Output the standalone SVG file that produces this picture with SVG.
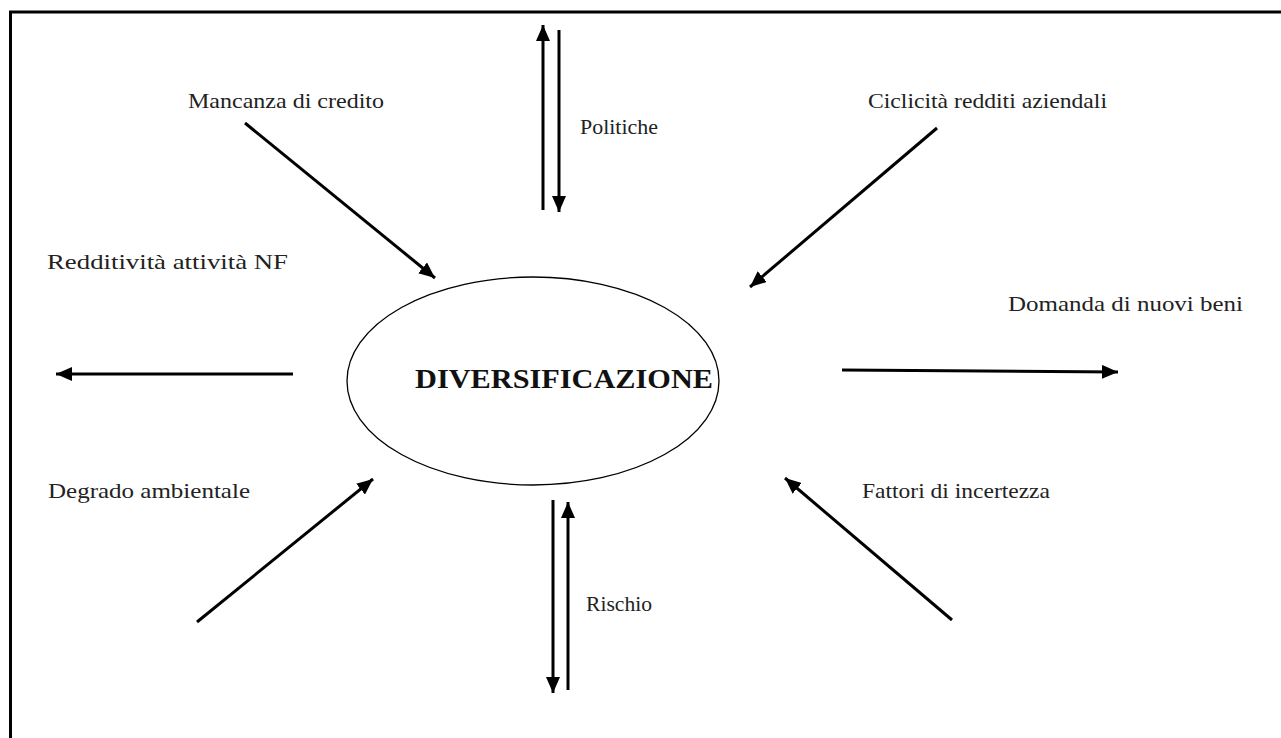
<svg xmlns="http://www.w3.org/2000/svg" width="1281" height="738" viewBox="0 0 1281 738">
<style>
.lbl{font-family:"Liberation Serif","Times New Roman",serif;font-size:22px;fill:#222}
.title{font-family:"Liberation Serif","Times New Roman",serif;font-size:27px;font-weight:bold;fill:#111}
.c{stroke:#000;stroke-width:3;fill:none;marker-end:url(#ah)}
</style>
<defs>
<marker id="ah" markerUnits="userSpaceOnUse" markerWidth="18" markerHeight="14" refX="16" refY="7" orient="auto">
<path d="M0,0 L16,7 L0,14 Z" fill="#000"/>
</marker>
</defs>
<rect width="1281" height="738" fill="#fff"/>
<g id="frame">
<path d="M1281,12 H10.5 V738" fill="none" stroke="#000" stroke-width="3"/>
</g>
<g id="center">
<ellipse cx="533" cy="381" rx="186" ry="104" fill="#fff" stroke="#000" stroke-width="1.3"/>
<text class="title" x="415" y="388" textLength="298" lengthAdjust="spacingAndGlyphs">DIVERSIFICAZIONE</text>
</g>
<g id="mancanza"><text class="lbl" x="188" y="108" textLength="196" lengthAdjust="spacingAndGlyphs">Mancanza di credito</text></g>
<g id="politiche"><text class="lbl" x="580" y="134" textLength="78" lengthAdjust="spacingAndGlyphs">Politiche</text></g>
<g id="ciclicita"><text class="lbl" x="868" y="108" textLength="239" lengthAdjust="spacingAndGlyphs">Ciclicità redditi aziendali</text></g>
<g id="redditivita"><text class="lbl" x="47" y="269" textLength="241" lengthAdjust="spacingAndGlyphs">Redditività attività NF</text></g>
<g id="domanda"><text class="lbl" x="1008" y="311" textLength="235" lengthAdjust="spacingAndGlyphs">Domanda di nuovi beni</text></g>
<g id="degrado"><text class="lbl" x="48" y="498" textLength="202" lengthAdjust="spacingAndGlyphs">Degrado ambientale</text></g>
<g id="fattori"><text class="lbl" x="862" y="498" textLength="188" lengthAdjust="spacingAndGlyphs">Fattori di incertezza</text></g>
<g id="rischio"><text class="lbl" x="586" y="611" textLength="66" lengthAdjust="spacingAndGlyphs">Rischio</text></g>
<g id="connectors">
<line class="c" x1="543" y1="210" x2="543" y2="25"/>
<line class="c" x1="559" y1="30" x2="559" y2="212"/>
<line class="c" x1="553" y1="500" x2="553" y2="693"/>
<line class="c" x1="568" y1="690" x2="568" y2="502"/>
<line class="c" x1="245" y1="123" x2="435" y2="278"/>
<line class="c" x1="937" y1="128" x2="750" y2="287"/>
<line class="c" x1="293" y1="374" x2="56" y2="374"/>
<line class="c" x1="842" y1="370" x2="1118" y2="372"/>
<line class="c" x1="197" y1="622" x2="373" y2="479"/>
<line class="c" x1="952" y1="620" x2="785" y2="478"/>
</g>
</svg>
